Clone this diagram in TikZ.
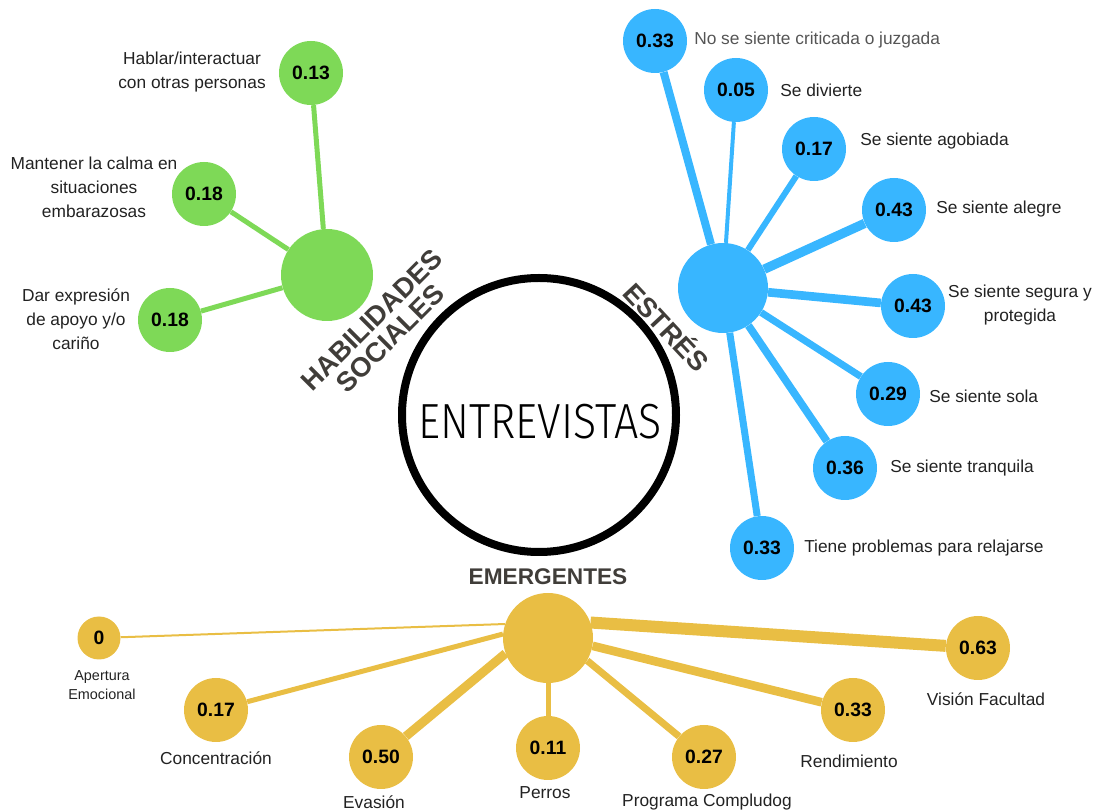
\documentclass[tikz,border=0pt]{standalone}
\usepackage{fontspec}
\setmainfont{Liberation Sans}
\newfontfamily\ligera{Fira Sans}[UprightFont=* Light]
\usetikzlibrary{backgrounds}
\definecolor{verde}{HTML}{7ED957}
\definecolor{azul}{HTML}{38B6FF}
\definecolor{amarillo}{HTML}{E9BE44}
\definecolor{gristit}{HTML}{403D39}
\definecolor{griseti}{HTML}{222222}
\definecolor{grisclaro}{HTML}{555555}

\begin{document}
\begin{tikzpicture}[x=0.75pt,y=-0.75pt,
        bola/.style={circle,inner sep=0pt,minimum size=48pt,font=\fontsize{14.5}{16}\selectfont\bfseries},
        centro/.style={circle,inner sep=0pt,minimum size=67.5pt},
        eti/.style={inner sep=0pt,text=griseti,font=\fontsize{13}{18}\selectfont},
        titulo/.style={inner sep=0pt,text=gristit,align=center,font=\fontsize{20.5}{19.5}\selectfont\bfseries}]
        \useasboundingbox (0,0) rectangle (1097,812);
        \node[circle,draw,line width=6pt,minimum size=205.5pt] (ent) at (539,415) {};
        \node[inner sep=0pt] (tent) at (540,422) {\scalebox{0.87}[1]{\ligera\fontsize{37}{40}\selectfont ENTREVISTAS}};
        % habilidades sociales
        \node[centro,fill=verde,minimum size=69pt] (hs) at (327,275) {};
        \node[bola,fill=verde] (h1) at (311,73) {0.13};
        \node[bola,fill=verde] (h2) at (204,194) {0.18};
        \node[bola,fill=verde] (h3) at (170,320) {0.18};
        \node[eti,align=center] at (192,72) {Hablar/interactuar\\con otras personas};
        \node[eti,align=center] at (94,187) {Mantener la calma en\\situaciones\\embarazosas};
        \node[eti,align=center] at (76,319) {Dar expresión\\de apoyo y/o\\cariño};
        \node[titulo,rotate=45] (thab) at (381,329) {HABILIDADES\\SOCIALES};
        % estres
        \node[centro,fill=azul] (es) at (723,288) {};
        \node[bola,fill=azul] (b1) at (655,41) {0.33};
        \node[bola,fill=azul] (b2) at (736,90) {0.05};
        \node[bola,fill=azul] (b3) at (814,149) {0.17};
        \node[bola,fill=azul] (b4) at (894,210) {0.43};
        \node[bola,fill=azul] (b5) at (913,306) {0.43};
        \node[bola,fill=azul] (b6) at (888,394) {0.29};
        \node[bola,fill=azul] (b7) at (845,468) {0.36};
        \node[bola,fill=azul] (b8) at (762,548) {0.33};
        \node[eti,anchor=west,text=grisclaro] at (694,40) {No se siente criticada o juzgada};
        \node[eti,anchor=west] at (780,90) {Se divierte};
        \node[eti,anchor=west] at (860,141) {Se siente agobiada};
        \node[eti,anchor=west] at (936,209) {Se siente alegre};
        \node[eti,align=center] at (1020,305) {Se siente segura y\\protegida};
        \node[eti,anchor=west] at (929,396) {Se siente sola};
        \node[eti,anchor=west] at (890,468) {Se siente tranquila};
        \node[eti,anchor=west] at (804,548) {Tiene problemas para relajarse};
        \node[titulo,rotate=-47] (test) at (668,326) {ESTRÉS};
        % emergentes
        \node[centro,fill=amarillo] (em) at (548,638) {};
        \node[bola,fill=amarillo,minimum size=32.25pt] (e1) at (99,638) {0};
        \node[bola,fill=amarillo] (e2) at (216,710) {0.17};
        \node[bola,fill=amarillo] (e3) at (381,757) {0.50};
        \node[bola,fill=amarillo] (e4) at (548,748) {0.11};
        \node[bola,fill=amarillo] (e5) at (704,757) {0.27};
        \node[bola,fill=amarillo] (e6) at (853,710) {0.33};
        \node[bola,fill=amarillo] (e7) at (978,648) {0.63};
        \node[eti,align=center,font=\fontsize{10.8}{14.5}\selectfont] at (102,685) {Apertura\\Emocional};
        \node[eti] at (216,758) {Concentración};
        \node[eti] at (374,802) {Evasión};
        \node[eti] at (545,793) {Perros};
        \node[eti] at (707,802) {Programa Compludog};
        \node[eti] at (849,761) {Rendimiento};
        \node[eti] at (986,699) {Visión Facultad};
        \node[titulo,font=\fontsize{17}{19}\selectfont\bfseries] (tem) at (548,577) {EMERGENTES};
        \begin{scope}[on background layer]
            \draw[verde,line width=3.75pt] (hs)--(h1) (hs)--(h2) (hs)--(h3);
            \draw[azul,line width=6pt] (es)--(b1);
            \draw[azul,line width=3pt] (es)--(b2);
            \draw[azul,line width=4.5pt] (es)--(b3);
            \draw[azul,line width=7pt] (es)--(b4);
            \draw[azul,line width=6.5pt] (es)--(b5);
            \draw[azul,line width=5.25pt] (es)--(b6);
            \draw[azul,line width=5.75pt] (es)--(b7);
            \draw[azul,line width=5.25pt] (es)--(b8);
            \draw[amarillo,line width=1.5pt] (em.162)--(e1);
            \draw[amarillo,line width=3.75pt] (em.175)--(e2);
            \draw[amarillo,line width=6.75pt] (em.200)--(e3);
            \draw[amarillo,line width=3.75pt] (em)--(e4);
            \draw[amarillo,line width=5.25pt] (em.-30)--(e5);
            \draw[amarillo,line width=6.5pt] (em.-10)--(e6);
            \draw[amarillo,line width=9pt] (em.20)--(e7);
        \end{scope}
    \end{tikzpicture}
\end{document}
